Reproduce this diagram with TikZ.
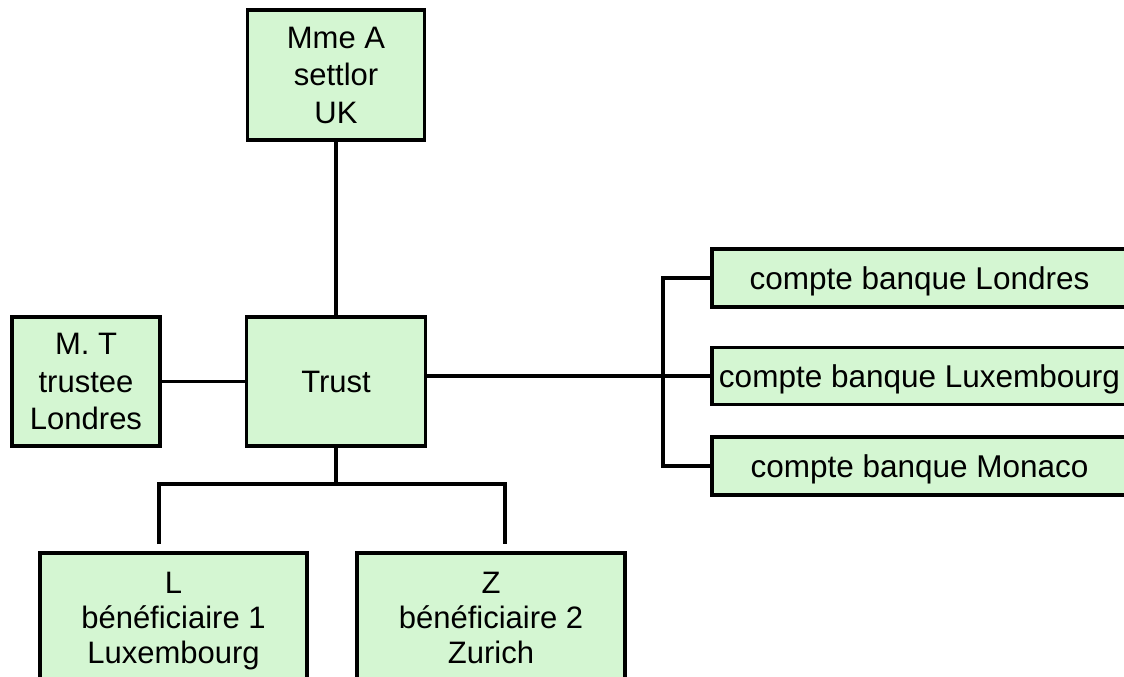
\documentclass[tikz,border=0pt]{standalone}
\usepackage{fontspec}
\setmainfont{Liberation Sans}
\definecolor{boxfill}{RGB}{212,246,210}
\begin{document}
\begin{tikzpicture}[x=1pt,y=-1pt,
  box/.style={draw=black, line width=3.5pt, fill=boxfill, inner sep=0pt,
    align=center, text depth=0pt, font=\fontsize{31}{37.5}\selectfont},
  lowbox/.style={box, font=\fontsize{31}{35}\selectfont},
  bank/.style={box, minimum width=415pt, minimum height=58pt,
    font=\fontsize{31.5}{37.5}\selectfont},
  link/.style={line width=3.5pt}]
\clip (0,0) rectangle (1124,677);
\fill[white] (0,0) rectangle (1124,677);

% parties of the trust
\node[box, minimum width=177pt, minimum height=130pt] (settlor) at (336,75) {Mme A\\settlor\\UK};
\node[box, minimum width=179pt, minimum height=129pt] (trust) at (336,381.5) {Trust};
\node[box, minimum width=148pt, minimum height=129pt] (trustee) at (86,381.5) {M. T\\trustee\\Londres};
\node[lowbox, minimum width=267pt, minimum height=130pt] (benefL) at (173.5,618) {L\\bénéficiaire 1\\Luxembourg};
\node[lowbox, minimum width=268pt, minimum height=130pt] (benefZ) at (491,618) {Z\\bénéficiaire 2\\Zurich};

% bank accounts
\node[bank] (lon) at (919.5,278) {compte banque Londres};
\node[bank, minimum height=57pt] (lux) at (919.5,376) {compte banque Luxembourg};
\node[bank] (mon) at (919.5,466) {compte banque Monaco};

% bus positions
\coordinate (bx) at (663,0);
\coordinate (bus) at (0,484);
\coordinate (dl) at (159,544);
\coordinate (dr) at (505,544);

% connectors
\draw[link] (settlor.south) -- (trust.north);
\draw[link] (trustee.east) -- (trust.west);
\draw[link] (trust.east |- lux.west) -- (lux.west);
\draw[link] (lon.west) -- (lon.west -| bx) -- (mon.west -| bx) -- (mon.west);
\draw[link] (trust.south) -- (trust.south |- bus);
\draw[link] (dl) -- (dl |- bus) -- (dr |- bus) -- (dr);
\end{tikzpicture}
\end{document}
